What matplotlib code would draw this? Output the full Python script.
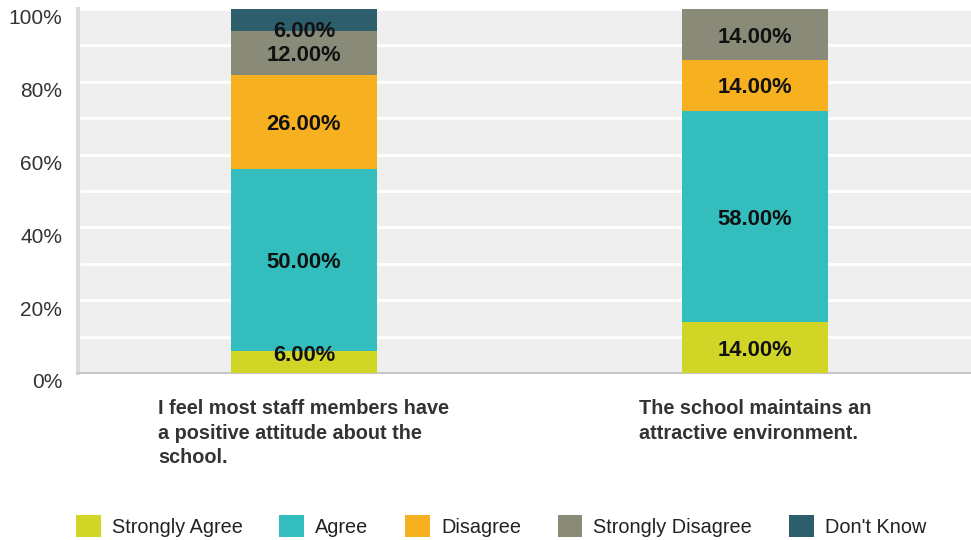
import matplotlib
matplotlib.use("Agg")
import matplotlib.pyplot as plt
import matplotlib.transforms as mtransforms
from matplotlib.patches import Patch
import numpy as np

plt.rcParams['font.family'] = ['Liberation Sans', 'DejaVu Sans']

categories = ["I feel most staff members have\na positive attitude about the\nschool.",
              "The school maintains an\nattractive environment."]
series_names = ["Strongly Agree", "Agree", "Disagree", "Strongly Disagree", "Don't Know"]
strongly_agree = [6, 14]
agree = [50, 58]
disagree = [26, 14]
strongly_disagree = [12, 14]
dont_know = [6, 0]
series_values = [strongly_agree, agree, disagree, strongly_disagree, dont_know]
colors = ["#d1d626", "#33bdbd", "#f7b01f", "#898a78", "#2c5f6b"]
y_ticks = [0, 20, 40, 60, 80, 100]
y_tick_labels = ["0%", "20%", "40%", "60%", "80%", "100%"]

fig = plt.figure(figsize=(9.71, 5.40), dpi=100)
ax = fig.add_axes([78/971, 1-373/540, 893/971, 364/540])
ax.set_facecolor("#efefef")

x = np.arange(len(categories))
bottom = np.zeros(len(categories))
width = 0.324
for name, vals, col in zip(series_names, series_values, colors):
    vals = np.array(vals, dtype=float)
    ax.bar(x, vals, width, bottom=bottom, color=col, label=name, zorder=3)
    for xi, v, b in zip(x, vals, bottom):
        if v > 0:
            yc = b + v / 2
            yc = min(max(yc, 5.5), 94.6)
            ax.text(xi, yc - 0.7, f"{v:.2f}%", ha="center", va="center",
                    fontsize=15.8, fontweight="bold", color="#111111", zorder=4)
    bottom += vals

ax.set_xlim(-0.501, 1.479)
ax.set_ylim(0, 100)
ax.set_yticks(np.arange(0, 101, 10), minor=True)
ax.set_yticks(y_ticks)
ax.set_yticklabels([])
ax.tick_params(axis="y", which="both", length=0)
ylab_trans = mtransforms.blended_transform_factory(ax.transAxes, ax.transData) + \
    mtransforms.ScaledTranslation(-16/100, -10/100, fig.dpi_scale_trans)
for yt, lab in zip(y_ticks, y_tick_labels):
    ax.text(0, yt, lab, transform=ylab_trans, ha="right", va="center",
            fontsize=15, color="#333333", clip_on=False)
ax.grid(axis="y", which="both", color="white", linewidth=2, zorder=1)

ax.set_xticks(x)
ax.set_xticklabels(categories, fontsize=14.3, fontweight="bold", color="#333333",
                   multialignment="left", linespacing=1.35)
ax.tick_params(axis="x", length=0, pad=19)

for s in ["top", "right"]:
    ax.spines[s].set_visible(False)
ax.spines["left"].set_color("#dcdcdc")
ax.spines["left"].set_linewidth(3)
ax.spines["bottom"].set_color("#c8c8c8")
ax.spines["bottom"].set_linewidth(1.5)

handles = [Patch(facecolor=c, edgecolor="none") for c in colors]
fig.legend(handles, series_names, loc="center", ncol=5, frameon=False,
           bbox_to_anchor=(0.516, 1-526/540), fontsize=14.3,
           handlelength=1.25, handleheight=1.3, handletextpad=0.55,
           columnspacing=1.85, labelcolor="#222222")

fig.savefig("out.png", dpi=100)
